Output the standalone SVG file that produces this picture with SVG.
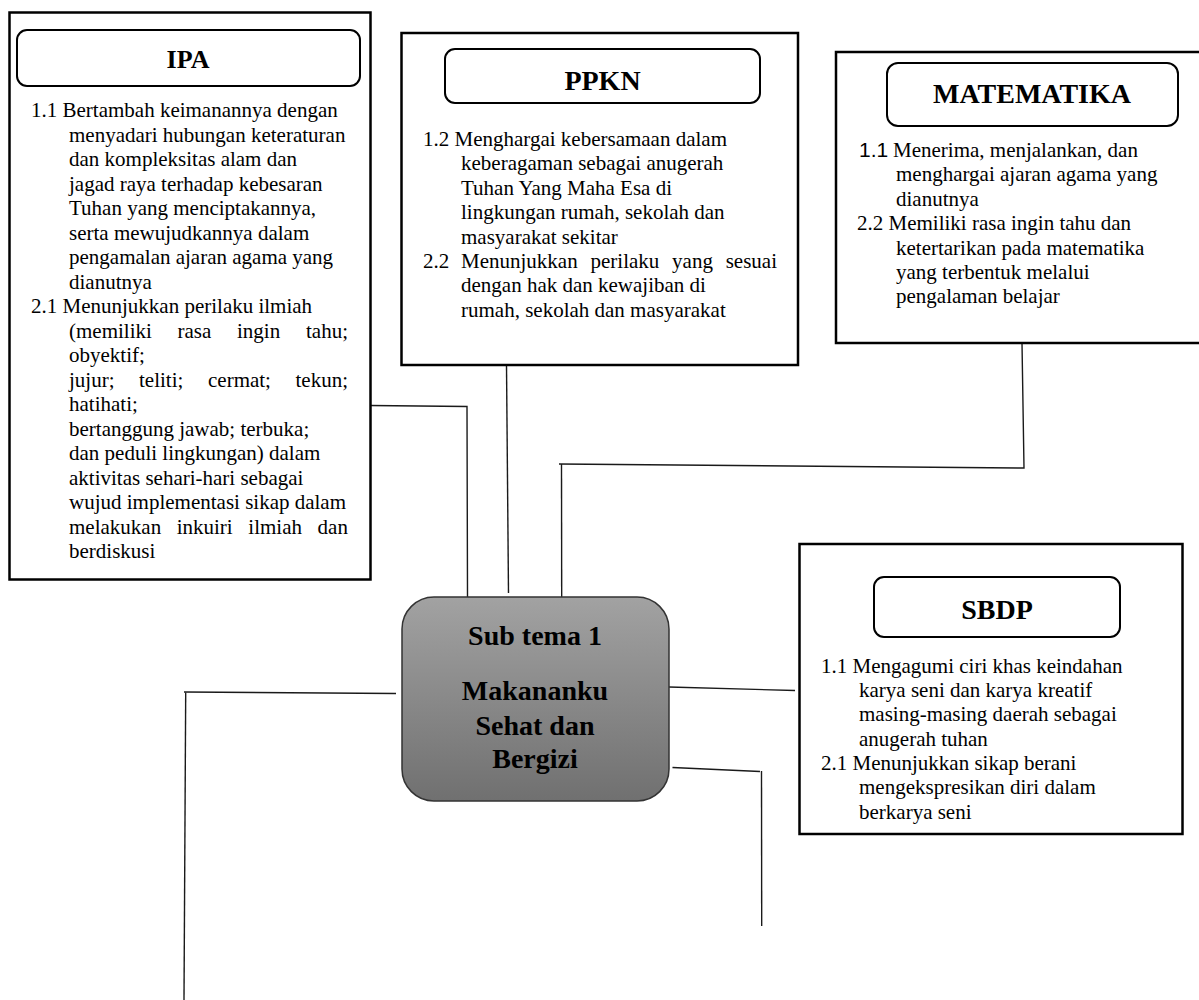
<svg xmlns="http://www.w3.org/2000/svg" width="1199" height="1000" viewBox="0 0 1199 1000">
<defs>
<linearGradient id="gc" x1="0" y1="0" x2="0" y2="1">
<stop offset="0" stop-color="#a2a2a2"/>
<stop offset="1" stop-color="#707070"/>
</linearGradient>
<style>
.box{fill:#fff;stroke:#000;stroke-width:2.5}
.hdr{fill:#fff;stroke:#000;stroke-width:2}
.ht{font-family:"Liberation Serif","Times New Roman",serif;font-weight:bold;font-size:28px;text-anchor:middle;fill:#000}
.bt{font-family:"Liberation Serif","Times New Roman",serif;font-size:21px;fill:#000}
.sans{font-family:"Liberation Sans",Arial,sans-serif}
.ct{font-family:"Liberation Serif","Times New Roman",serif;font-weight:bold;font-size:28px;text-anchor:middle;fill:#000}
.cn{fill:none;stroke:#1a1a1a;stroke-width:1.4}
</style>
</defs>
<rect width="1199" height="1000" fill="#fff"/>

<g id="connectors">
<polyline class="cn" points="370,405.5 467,406.5 467.5,597"/>
<line class="cn" x1="506.5" y1="365" x2="508.5" y2="593"/>
<polyline class="cn" points="1022,343 1024,468 559,464"/>
<line class="cn" x1="561.5" y1="464" x2="561.7" y2="601"/>
<line class="cn" x1="669" y1="687" x2="795" y2="690.5"/>
<polyline class="cn" points="672.5,767.5 760,771.5"/>
<line class="cn" x1="761.5" y1="771" x2="761.7" y2="926"/>
<line class="cn" x1="184" y1="692" x2="396" y2="693.5"/>
<line class="cn" x1="185.7" y1="692.5" x2="184" y2="1000"/>
</g>

<g id="ipa">
<rect class="box" x="9.5" y="12.5" width="361" height="567"/>
<rect class="hdr" x="17" y="30" width="343" height="56" rx="10"/>
<text class="ht" x="188" y="68" style="font-size:26px">IPA</text>
<text class="bt">
<tspan x="31" y="117">1.1 Bertambah keimanannya dengan</tspan>
<tspan x="69" y="141.5">menyadari hubungan keteraturan</tspan>
<tspan x="69" y="166">dan kompleksitas alam dan</tspan>
<tspan x="69" y="190.5">jagad raya terhadap kebesaran</tspan>
<tspan x="69" y="215">Tuhan yang menciptakannya,</tspan>
<tspan x="69" y="239.5">serta mewujudkannya dalam</tspan>
<tspan x="69" y="264">pengamalan ajaran agama yang</tspan>
<tspan x="69" y="288.5">dianutnya</tspan>
<tspan x="31" y="313">2.1 Menunjukkan perilaku ilmiah</tspan>
<tspan x="69" y="337.5">(memiliki</tspan><tspan x="177.5" y="337.5">rasa</tspan><tspan x="237" y="337.5">ingin</tspan><tspan x="306" y="337.5">tahu;</tspan>
<tspan x="69" y="362">obyektif;</tspan>
<tspan x="69" y="386.5">jujur;</tspan><tspan x="139" y="386.5">teliti;</tspan><tspan x="208" y="386.5">cermat;</tspan><tspan x="295.5" y="386.5">tekun;</tspan>
<tspan x="69" y="411">hatihati;</tspan>
<tspan x="69" y="435.5">bertanggung jawab; terbuka;</tspan>
<tspan x="69" y="460">dan peduli lingkungan) dalam</tspan>
<tspan x="69" y="484.5">aktivitas sehari-hari sebagai</tspan>
<tspan x="69" y="509">wujud implementasi sikap dalam</tspan>
<tspan x="69" y="533.5">melakukan</tspan><tspan x="176.7" y="533.5">inkuiri</tspan><tspan x="248.3" y="533.5">ilmiah</tspan><tspan x="317.6" y="533.5">dan</tspan>
<tspan x="69" y="558">berdiskusi</tspan>
</text>
</g>

<g id="ppkn">
<rect class="box" x="401.5" y="33" width="396.5" height="332"/>
<rect class="hdr" x="445" y="49" width="315" height="54" rx="10"/>
<text class="ht" x="602.5" y="90">PPKN</text>
<text class="bt">
<tspan x="423" y="146">1.2 Menghargai kebersamaan dalam</tspan>
<tspan x="461" y="170.4">keberagaman sebagai anugerah</tspan>
<tspan x="461" y="194.8">Tuhan Yang Maha Esa di</tspan>
<tspan x="461" y="219.2">lingkungan rumah, sekolah dan</tspan>
<tspan x="461" y="243.6">masyarakat sekitar</tspan>
<tspan x="423" y="268">2.2</tspan><tspan x="461" y="268">Menunjukkan</tspan><tspan x="590.5" y="268">perilaku</tspan><tspan x="672.1" y="268">yang</tspan><tspan x="725.7" y="268">sesuai</tspan>
<tspan x="461" y="292.4">dengan hak dan kewajiban di</tspan>
<tspan x="461" y="316.8">rumah, sekolah dan masyarakat</tspan>
</text>
</g>

<g id="matematika">
<rect class="box" x="836" y="52" width="366" height="291"/>
<rect class="hdr" x="887" y="63" width="291" height="63" rx="11"/>
<text class="ht" x="1032" y="103">MATEMATIKA</text>
<text class="bt">
<tspan x="859" y="157" class="sans">1.1</tspan><tspan x="893" y="157">Menerima, menjalankan, dan</tspan>
<tspan x="896" y="181.4">menghargai ajaran agama yang</tspan>
<tspan x="896" y="205.8">dianutnya</tspan>
<tspan x="857" y="230.2">2.2 Memiliki rasa ingin tahu dan</tspan>
<tspan x="896" y="254.6">ketertarikan pada matematika</tspan>
<tspan x="896" y="279">yang terbentuk melalui</tspan>
<tspan x="896" y="303.4">pengalaman belajar</tspan>
</text>
</g>

<g id="sbdp">
<rect class="box" x="799.5" y="544" width="383" height="290"/>
<rect class="hdr" x="874" y="577" width="246" height="60" rx="10"/>
<text class="ht" x="997" y="619">SBDP</text>
<text class="bt">
<tspan x="821" y="672.7">1.1 Mengagumi ciri khas keindahan</tspan>
<tspan x="859" y="697">karya seni dan karya kreatif</tspan>
<tspan x="859" y="721.3">masing-masing daerah sebagai</tspan>
<tspan x="859" y="745.6">anugerah tuhan</tspan>
<tspan x="821" y="770">2.1 Menunjukkan sikap berani</tspan>
<tspan x="859" y="794.3">mengekspresikan diri dalam</tspan>
<tspan x="859" y="818.6">berkarya seni</tspan>
</text>
</g>

<g id="subtema">
<rect x="402" y="597" width="267" height="204" rx="32" fill="url(#gc)" stroke="#333" stroke-width="1.5"/>
<text class="ct" x="535" y="645">Sub tema 1</text>
<text class="ct" x="535" y="700">Makananku</text>
<text class="ct" x="535" y="735">Sehat dan</text>
<text class="ct" x="535" y="768">Bergizi</text>
</g>
</svg>
